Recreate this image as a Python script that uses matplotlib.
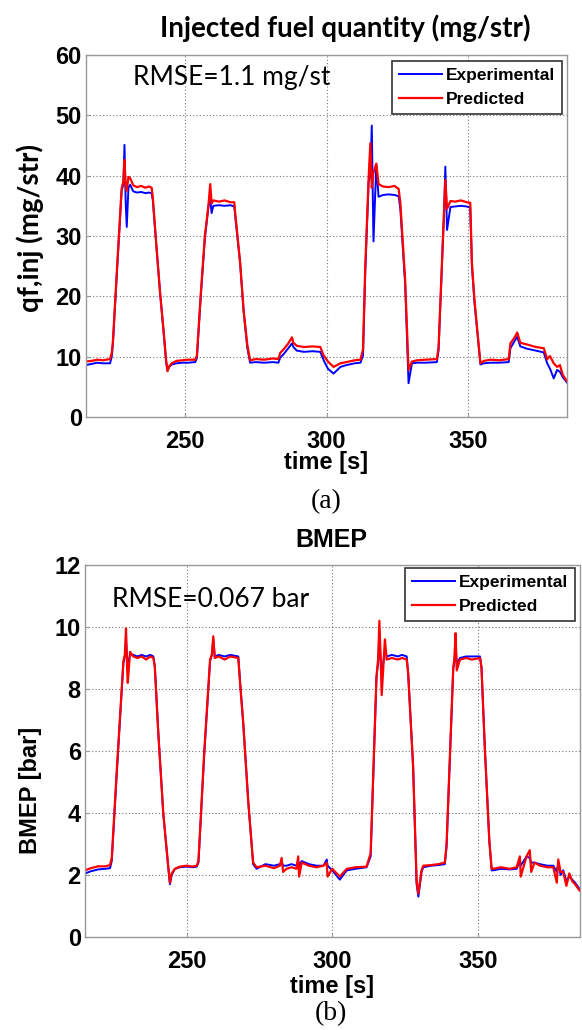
import matplotlib
matplotlib.use("Agg")
import matplotlib.pyplot as plt

# qf,inj (mg/str)
time_qf = [215, 217, 219, 221, 223.5, 224.1, 224.5, 226, 227.6, 228.2,
           228.6, 229.0, 229.4, 230.0, 230.6, 231.7, 233, 234.5, 236, 237.2,
           238.2, 238.6, 240, 241.2, 242.4, 243.3, 243.8, 244.4, 245.3, 247,
           249, 251, 253.6, 254.2, 255.5, 257, 258.3, 258.9, 259.4, 260,
           262, 264, 266, 267.4, 267.7, 269.5, 270.7, 272, 273, 275,
           278, 281, 283, 283.6, 285, 286.5, 287.8, 288.3, 289.5, 292,
           295, 297.8, 299, 300.5, 302.5, 304.9, 307, 310, 312, 312.9,
           313.7, 314.9, 315.5, 316.0, 316.6, 317.6, 318.4, 320, 322, 324,
           325.5, 326.1, 327.8, 329, 330.2, 332, 335, 339, 339.6, 341.6,
           342.0, 342.6, 343.8, 345.5, 347.5, 349.5, 350.8, 351.4, 352.3, 354.4,
           355.6, 358, 361, 364.4, 365, 366.5, 367.4, 368.5, 371, 374,
           376.8, 378, 379, 380.3, 381.5, 382.5, 383.5, 385]
qf_pred = [9.2, 9.3, 9.5, 9.4, 9.6, 10.6, 12.5, 25.0, 37.9, 39.0,
           42.6, 38.5, 37.5, 39.8, 39.6, 38.4, 38.1, 38.3, 38.0, 38.2,
           38.0, 36.5, 27.7, 20.5, 14.4, 9.5, 7.6, 8.4, 8.9, 9.3,
           9.4, 9.5, 9.5, 10.2, 20.0, 30.0, 35.2, 38.6, 35.4, 35.9,
           35.7, 35.9, 35.6, 35.6, 34.0, 25.5, 17.7, 12.0, 9.4, 9.6,
           9.5, 9.7, 9.6, 10.6, 11.3, 12.2, 13.2, 12.3, 11.8, 11.6,
           11.7, 11.6, 10.2, 9.2, 8.3, 8.9, 9.1, 9.4, 9.5, 11.2,
           25.0, 39.8, 45.4, 38.0, 40.5, 42.0, 38.6, 38.2, 38.1, 38.3,
           37.8, 35.5, 22.7, 7.8, 9.2, 9.4, 9.5, 9.6, 11.5, 34.9,
           39.3, 34.5, 35.8, 35.7, 35.9, 35.6, 35.5, 25.5, 19.4, 8.9,
           9.3, 9.5, 9.4, 9.6, 12.2, 13.2, 14.0, 12.3, 12.0, 11.6,
           11.4, 9.6, 10.1, 8.9, 8.3, 8.6, 7.0, 5.9]
qf_exp = [8.6, 8.8, 9.0, 8.9, 8.9, 10.0, 12.0, 24.5, 37.5, 38.5,
          45.1, 36.0, 31.5, 38.0, 38.5, 37.4, 37.2, 37.3, 37.1, 37.2,
          37.1, 36.0, 27.5, 20.5, 14.2, 9.2, 7.7, 8.3, 8.7, 8.9,
          9.0, 9.0, 9.1, 9.8, 19.5, 29.5, 35.0, 36.0, 33.8, 35.0,
          35.1, 35.0, 35.1, 34.9, 33.5, 25.3, 17.5, 11.5, 9.0, 9.1,
          9.0, 9.1, 9.0, 9.8, 10.5, 11.4, 12.2, 11.6, 11.0, 10.8,
          10.9, 10.8, 9.4, 8.0, 7.2, 8.3, 8.6, 8.9, 9.0, 10.2,
          24.0, 39.0, 40.0, 48.3, 29.1, 41.8, 36.5, 36.8, 36.9, 36.8,
          36.6, 34.5, 22.0, 5.6, 8.9, 9.0, 9.0, 9.1, 11.0, 34.5,
          41.5, 31.0, 34.8, 34.9, 35.0, 34.9, 34.7, 25.0, 19.0, 8.7,
          8.9, 9.0, 9.0, 9.1, 11.4, 12.6, 13.3, 11.7, 11.3, 11.0,
          10.7, 8.9, 8.0, 6.4, 7.8, 7.5, 6.6, 5.7]

# BMEP (bar)
time_bmep = [215, 217, 219.5, 222, 223.6, 224.2, 226, 228.2, 228.7, 229.1,
             229.5, 229.7, 230.5, 231.6, 233, 234.5, 236, 237.5, 238.5, 239,
             240.2, 241.9, 243.6, 244.2, 244.8, 245.9, 247.6, 250, 252, 253.4,
             254, 256, 258, 258.6, 259.1, 259.6, 261, 263, 265, 267.7,
             268.3, 269.4, 271.1, 272.8, 274, 277, 280, 282, 282.6, 283.1,
             284.3, 286, 287.7, 288.3, 288.6, 289.5, 292, 294.6, 297, 298.1,
             298.4, 300, 302.6, 305, 308, 311.8, 313.2, 315.2, 315.8, 316.2,
             316.6, 317.0, 318.1, 318.7, 320.5, 322.5, 324, 325.6, 326.1, 327.8,
             329, 329.6, 330.7, 331.3, 334, 336.5, 338.7, 339.3, 341.6, 342.0,
             342.4, 342.8, 343.9, 346, 348, 350.8, 351.3, 352.5, 354, 354.8,
             355.3, 358, 361, 363.4, 364.5, 364.8, 366.8, 367.9, 368.4, 369.5,
             371.4, 374, 376, 377.2, 377.7, 378.5, 379.4, 380.5, 381.5, 382.5,
             383.5, 385]
bmep_pred = [2.15, 2.22, 2.28, 2.28, 2.32, 2.55, 5.5, 8.9, 9.1, 9.95,
             8.6, 8.2, 9.2, 9.05, 9.0, 9.05, 8.95, 9.05, 9.0, 8.7,
             6.56, 4.0, 2.3, 1.75, 2.05, 2.2, 2.27, 2.3, 2.27, 2.3,
             2.45, 6.0, 8.95, 9.1, 9.7, 9.0, 9.05, 8.95, 9.05, 9.0,
             8.2, 6.9, 4.4, 2.4, 2.25, 2.3, 2.22, 2.3, 2.55, 2.1,
             2.2, 2.25, 2.2, 2.6, 1.95, 2.4, 2.3, 2.25, 2.3, 2.4,
             1.95, 2.2, 1.95, 2.2, 2.25, 2.27, 2.7, 8.4, 9.0, 10.2,
             9.1, 7.8, 9.6, 8.95, 9.0, 8.95, 9.0, 8.95, 8.5, 5.5,
             1.8, 1.4, 2.15, 2.3, 2.32, 2.35, 2.4, 3.0, 8.7, 9.0,
             9.8, 8.6, 8.95, 9.0, 8.95, 9.0, 8.7, 6.0, 3.1, 2.2,
             2.2, 2.25, 2.2, 2.25, 2.6, 1.95, 2.6, 2.8, 2.1, 2.4,
             2.3, 2.25, 2.25, 1.75, 2.5, 2.1, 2.1, 1.65, 2.05, 1.8,
             1.7, 1.5]
bmep_exp = [2.05, 2.12, 2.18, 2.2, 2.22, 2.45, 5.4, 8.85, 9.05, 9.6,
            8.9, 8.8, 9.1, 9.1, 9.05, 9.1, 9.05, 9.1, 9.05, 8.75,
            6.6, 4.0, 2.25, 1.7, 2.0, 2.2, 2.25, 2.27, 2.25, 2.27,
            2.4, 5.9, 8.9, 9.1, 9.6, 9.05, 9.1, 9.05, 9.1, 9.05,
            8.25, 6.9, 4.4, 2.35, 2.2, 2.35, 2.3, 2.35, 2.4, 2.3,
            2.3, 2.35, 2.3, 2.45, 2.3, 2.45, 2.35, 2.3, 2.3, 2.5,
            2.3, 2.15, 1.85, 2.15, 2.2, 2.25, 2.6, 8.35, 8.9, 9.8,
            9.0, 8.4, 9.3, 9.05, 9.1, 9.05, 9.1, 9.05, 8.5, 5.5,
            1.7, 1.3, 2.1, 2.25, 2.3, 2.32, 2.35, 2.9, 8.65, 8.9,
            9.4, 8.8, 9.0, 9.05, 9.05, 9.05, 8.7, 6.0, 3.1, 2.15,
            2.15, 2.2, 2.18, 2.2, 2.45, 2.3, 2.6, 2.55, 2.4, 2.4,
            2.35, 2.3, 2.3, 2.1, 2.4, 2.0, 2.15, 1.8, 1.95, 1.85,
            1.75, 1.55]

x_ticks = [250, 300, 350]
qf_ticks = [0, 10, 20, 30, 40, 50, 60]
bmep_ticks = [0, 2, 4, 6, 8, 10, 12]

ARIAL = "Liberation Sans"
CALIBRI = "Lato"
W, H = 582, 1030

fig = plt.figure(figsize=(W / 100, H / 100), dpi=100)
fig.patch.set_facecolor("white")


def px(x, y):
    # pozycja w pikselach (od lewej, od gory) -> wspolrzedne figury
    return x / W, 1 - y / H


def styl_osi(ax, yticks):
    ax.set_xlim(215, 385)
    ax.set_xticks(x_ticks)
    ax.set_yticks(yticks)
    ax.set_ylim(yticks[0], yticks[-1])
    ax.grid(True, linestyle=(0, (1, 2)), color="#777777", linewidth=0.8)
    for s in ax.spines.values():
        s.set_color("#999999")
        s.set_linewidth(1.0)
    ax.tick_params(direction="in", length=3, color="#999999")
    ax.tick_params(axis="x", pad=9)
    ax.tick_params(axis="y", pad=3)
    for lab in ax.get_xticklabels() + ax.get_yticklabels():
        lab.set_fontfamily(ARIAL)
        lab.set_fontweight("bold")
        lab.set_fontsize(17)


def legenda(ax, x, y):
    leg = ax.legend(loc="upper right", bbox_to_anchor=px(x, y), bbox_transform=fig.transFigure,
                    prop={"family": ARIAL, "weight": "bold", "size": 12.5},
                    handlelength=2.5, handletextpad=0.2, borderaxespad=0, fancybox=False,
                    framealpha=1, borderpad=0.4, labelspacing=0.5)
    leg.get_frame().set_edgecolor("#333333")
    leg.get_frame().set_linewidth(1.2)


# --- wykres (a) ---
ax1 = fig.add_axes([86 / W, 1 - 417 / H, (567 - 86) / W, (417 - 55) / H])
ax1.plot(time_qf, qf_exp, color="#0000ff", lw=1.4, label="Experimental")
ax1.plot(time_qf, qf_pred, color="#ff0000", lw=1.6, label="Predicted")
styl_osi(ax1, qf_ticks)
legenda(ax1, 562, 61)
fig.text(*px(345, 28), "Injected fuel quantity (mg/str)", fontfamily=CALIBRI, fontweight="bold",
         fontsize=20, ha="center", va="center")
fig.text(*px(30, 228), "qf,inj (mg/str)", fontfamily=CALIBRI, fontweight="bold", fontsize=20,
         rotation=90, ha="center", va="center")
fig.text(*px(133, 85), "RMSE=1.1 mg/st", fontfamily=CALIBRI, fontsize=19, va="baseline", ha="left")
fig.text(*px(326, 463), "time [s]", fontfamily=ARIAL, fontweight="bold", fontsize=17,
         ha="center", va="center")
fig.text(*px(326, 502), "(a)", fontfamily="Liberation Serif", fontsize=20, ha="center", va="center")

# --- wykres (b) ---
ax2 = fig.add_axes([85 / W, 1 - 937 / H, (579.5 - 85) / W, (937 - 565) / H])
ax2.plot(time_bmep, bmep_exp, color="#0000ff", lw=1.4, label="Experimental")
ax2.plot(time_bmep, bmep_pred, color="#ff0000", lw=1.6, label="Predicted")
styl_osi(ax2, bmep_ticks)
legenda(ax2, 575, 568)
fig.text(*px(331, 540), "BMEP", fontfamily=ARIAL, fontweight="bold", fontsize=18,
         ha="center", va="center")
fig.text(*px(30, 790), "BMEP [bar]", fontfamily=ARIAL, fontweight="bold", fontsize=17,
         rotation=90, ha="center", va="center")
fig.text(*px(112, 607), "RMSE=0.067 bar", fontfamily=CALIBRI, fontsize=19, va="baseline", ha="left")
fig.text(*px(332, 987), "time [s]", fontfamily=ARIAL, fontweight="bold", fontsize=17,
         ha="center", va="center")
fig.text(*px(331, 1014), "(b)", fontfamily="Liberation Serif", fontsize=20, ha="center", va="center")

fig.savefig("out.png", dpi=100)
